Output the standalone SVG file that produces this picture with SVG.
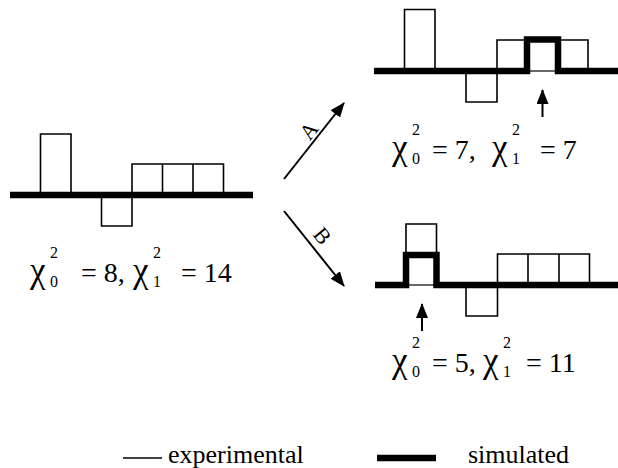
<svg xmlns="http://www.w3.org/2000/svg" width="618" height="468" viewBox="0 0 618 468">
<style>
.exp{fill:none;stroke:#000;stroke-width:1.6}
.sim{fill:none;stroke:#000;stroke-width:6.5;stroke-linejoin:miter;stroke-linecap:butt}
.thin{stroke:#000;stroke-width:1.2}
text{font-family:'Liberation Serif','DejaVu Serif',serif;fill:#000}
.eq{font-size:28px}
.chi{font-size:35px}
.s{font-size:16px}
.lbl{font-size:22px}
.leg{font-size:26px}
.arr{stroke:#000;stroke-width:2;fill:none}
</style>
<defs>
<marker id="head" viewBox="0 0 15 12" refX="14" refY="6" markerWidth="15" markerHeight="12" markerUnits="userSpaceOnUse" orient="auto">
<path d="M0,0 L15,6 L0,12 z" fill="#000"/>
</marker>
</defs>

<g id="panel-initial">
<path class="exp" d="M40.5,195 V134 H71 V195 M101.5,195 V226 H132 V195 M132,195 V164 H223.5 V195 M162.5,164 V195 M193,164 V195"/>
<path class="sim" d="M10,195 H253"/>
<text class="eq" y="282"><tspan class="chi" x="30">χ</tspan><tspan class="s" x="50" y="258">2</tspan><tspan class="s" x="50" y="287">0</tspan><tspan x="81" y="282">= 8,</tspan><tspan class="chi" x="133">χ</tspan><tspan class="s" x="153" y="258">2</tspan><tspan class="s" x="153" y="287">1</tspan><tspan x="181" y="282">= 14</tspan></text>
</g>

<g id="panel-A">
<path class="exp" d="M404.5,71 V9.5 H435 V71 M466,71 V102 H497 V71 M497,71 V40 H588 V71 M527,40 V71 M558,40 V71"/>
<path class="thin" d="M527,71 H558"/>
<path class="sim" d="M374,71 H527 V39.5 H558 V71 H618"/>
<path class="arr" d="M542.5,117 V90" marker-end="url(#head)"/>
<text class="eq" y="159"><tspan class="chi" x="392">χ</tspan><tspan class="s" x="412" y="135">2</tspan><tspan class="s" x="412" y="164">0</tspan><tspan x="432" y="159">= 7,</tspan><tspan class="chi" x="492">χ</tspan><tspan class="s" x="512" y="135">2</tspan><tspan class="s" x="512" y="164">1</tspan><tspan x="540" y="159">= 7</tspan></text>
</g>

<g id="panel-B">
<path class="exp" d="M406,285 V224 H436.5 V285 M466,285 V316 H497.5 V285 M497.5,285 V254 H589.5 V285 M528,254 V285 M559,254 V285"/>
<path class="thin" d="M406,285 H436.5"/>
<path class="sim" d="M375,285 H406 V255 H436.5 V285 H618"/>
<path class="arr" d="M422,331 V304" marker-end="url(#head)"/>
<text class="eq" y="372"><tspan class="chi" x="392">χ</tspan><tspan class="s" x="412" y="348">2</tspan><tspan class="s" x="412" y="377">0</tspan><tspan x="432" y="372">= 5,</tspan><tspan class="chi" x="483">χ</tspan><tspan class="s" x="503" y="348">2</tspan><tspan class="s" x="503" y="377">1</tspan><tspan x="526" y="372">= 11</tspan></text>
</g>

<g id="connectors">
<path class="arr" d="M284,179 L344,103" marker-end="url(#head)"/>
<path class="arr" d="M284,211 L344,286" marker-end="url(#head)"/>
<text class="lbl" text-anchor="middle" transform="translate(309,131) rotate(-52)" x="0" y="7">A</text>
<text class="lbl" text-anchor="middle" transform="translate(322,236) rotate(51)" x="0" y="7">B</text>
</g>

<g id="legend">
<path class="exp" d="M123,458 H162"/>
<text class="leg" x="168" y="463">experimental</text>
<path class="sim" d="M377,458 H436"/>
<text class="leg" x="468" y="463">simulated</text>
</g>
</svg>
